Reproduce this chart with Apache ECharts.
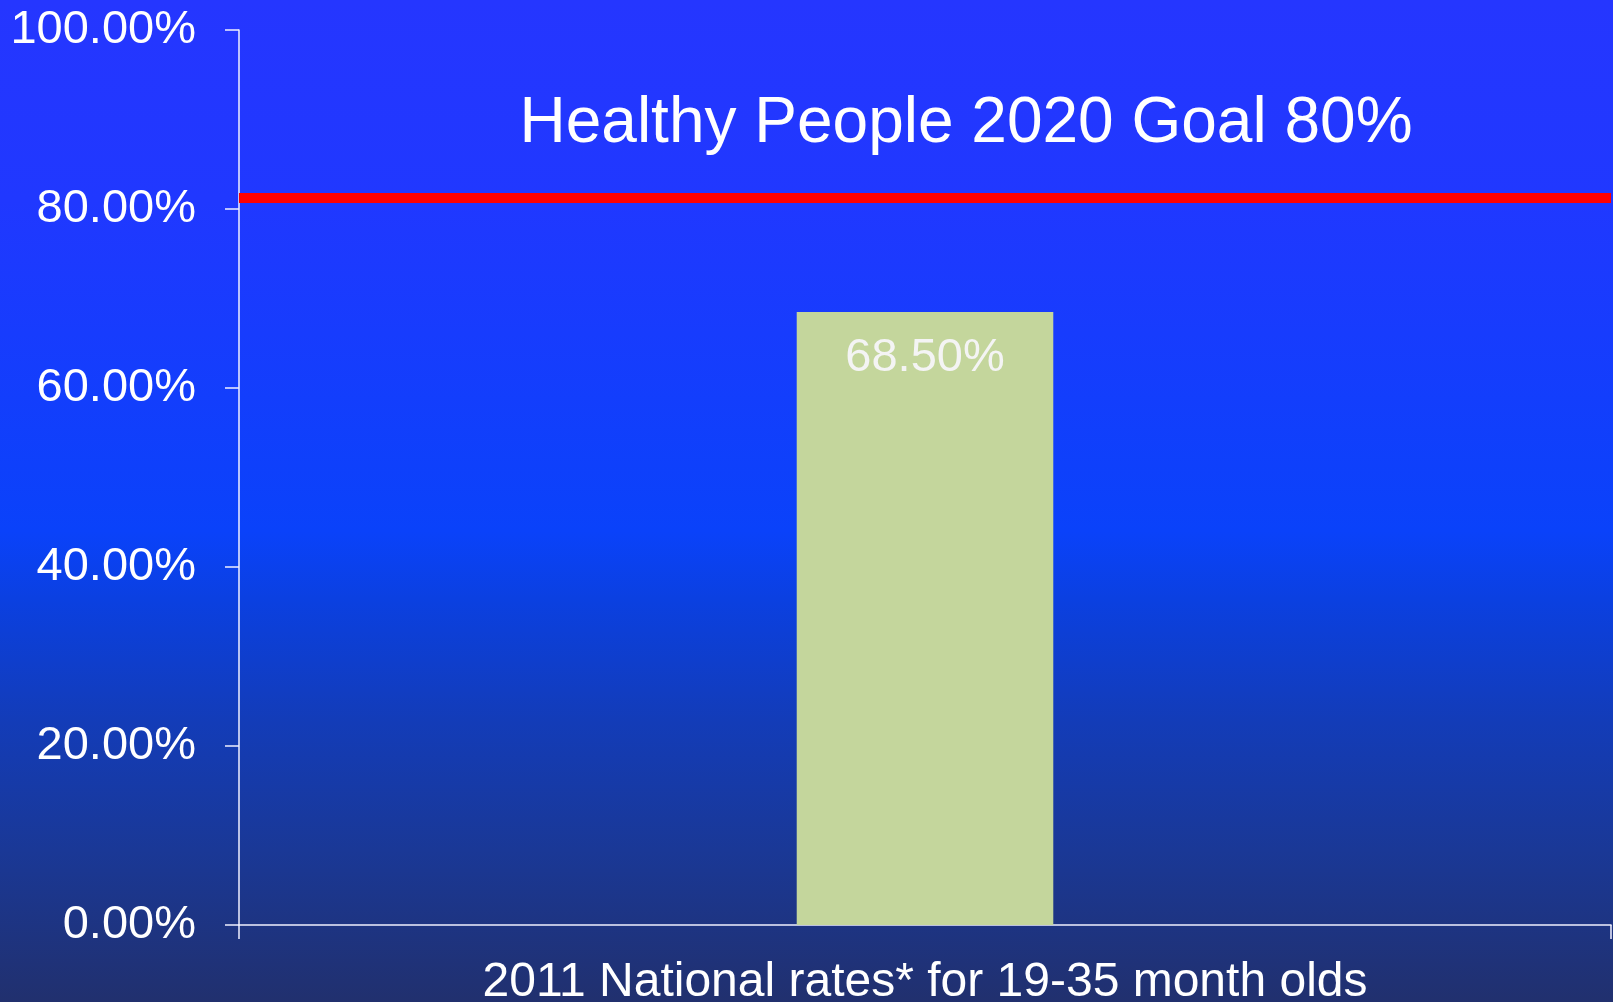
<!DOCTYPE html>
<html>
<head>
<meta charset="utf-8">
<script src="https://cdn.jsdelivr.net/npm/echarts@6/dist/echarts.min.js"></script>
<style>
html,body{margin:0;padding:0;}
#chart{width:1613px;height:1002px;}
</style>
</head>
<body>
<div id="chart"></div>
<script>
const categories = ['2011 National rates* for 19-35 month olds'];
const rates = [68.5];
const goalLevel = [81.3];
const goalTitle = 'Healthy People 2020 Goal 80%';
const yMin = 0, yMax = 100, yStep = 20;

const FONT = '"Liberation Sans", Arial, sans-serif';
const chart = echarts.init(document.getElementById('chart'), null, {renderer: 'canvas'});
chart.setOption({
  animation: false,
  backgroundColor: new echarts.graphic.LinearGradient(0, 0, 0, 1, [
    {offset: 0, color: '#2536ff'},
    {offset: 0.2, color: '#2038ff'},
    {offset: 0.53, color: '#0a42fa'},
    {offset: 0.6, color: '#0b40e0'},
    {offset: 0.72, color: '#133cb8'},
    {offset: 0.85, color: '#1a3896'},
    {offset: 1, color: '#21306e'}
  ]),
  grid: {left: 239, right: 2, top: 30, bottom: 77, containLabel: false, outerBoundsMode: 'none'},
  graphic: [{
    type: 'text',
    x: 966, y: 124,
    style: {
      text: goalTitle, fill: '#ffffff', font: '64px ' + FONT,
      align: 'center', verticalAlign: 'middle'
    }
  }],
  xAxis: {
    type: 'category',
    data: categories,
    boundaryGap: true,
    axisLine: {show: true, lineStyle: {color: '#f0f0ff', width: 1.5}},
    axisTick: {show: true, length: 14, lineStyle: {color: '#f0f0ff', width: 1.5}},
    axisLabel: {color: '#ffffff', fontSize: 48, fontFamily: FONT, margin: 34}
  },
  yAxis: {
    type: 'value',
    min: yMin, max: yMax, interval: yStep,
    splitLine: {show: false},
    axisLine: {show: true, lineStyle: {color: '#f0f0ff', width: 1.5}},
    axisTick: {show: true, length: 14, lineStyle: {color: '#f0f0ff', width: 1.5}},
    axisLabel: {
      color: '#ffffff', fontSize: 47, fontFamily: FONT, margin: 43,
      formatter: v => v.toFixed(2) + '%'
    }
  },
  series: [{
    type: 'bar',
    data: rates,
    barWidth: '18.7%',
    itemStyle: {color: '#c4d69c'},
    label: {
      show: true, position: 'insideTop', distance: 23,
      color: '#f4f4f4', fontSize: 47, fontFamily: FONT,
      formatter: p => p.value.toFixed(2) + '%'
    },
    markLine: {
      silent: true,
      symbol: 'none',
      label: {show: false},
      lineStyle: {color: '#ff0000', width: 10, type: 'solid'},
      data: goalLevel.map(v => ({yAxis: v}))
    }
  }]
});
</script>
</body>
</html>
